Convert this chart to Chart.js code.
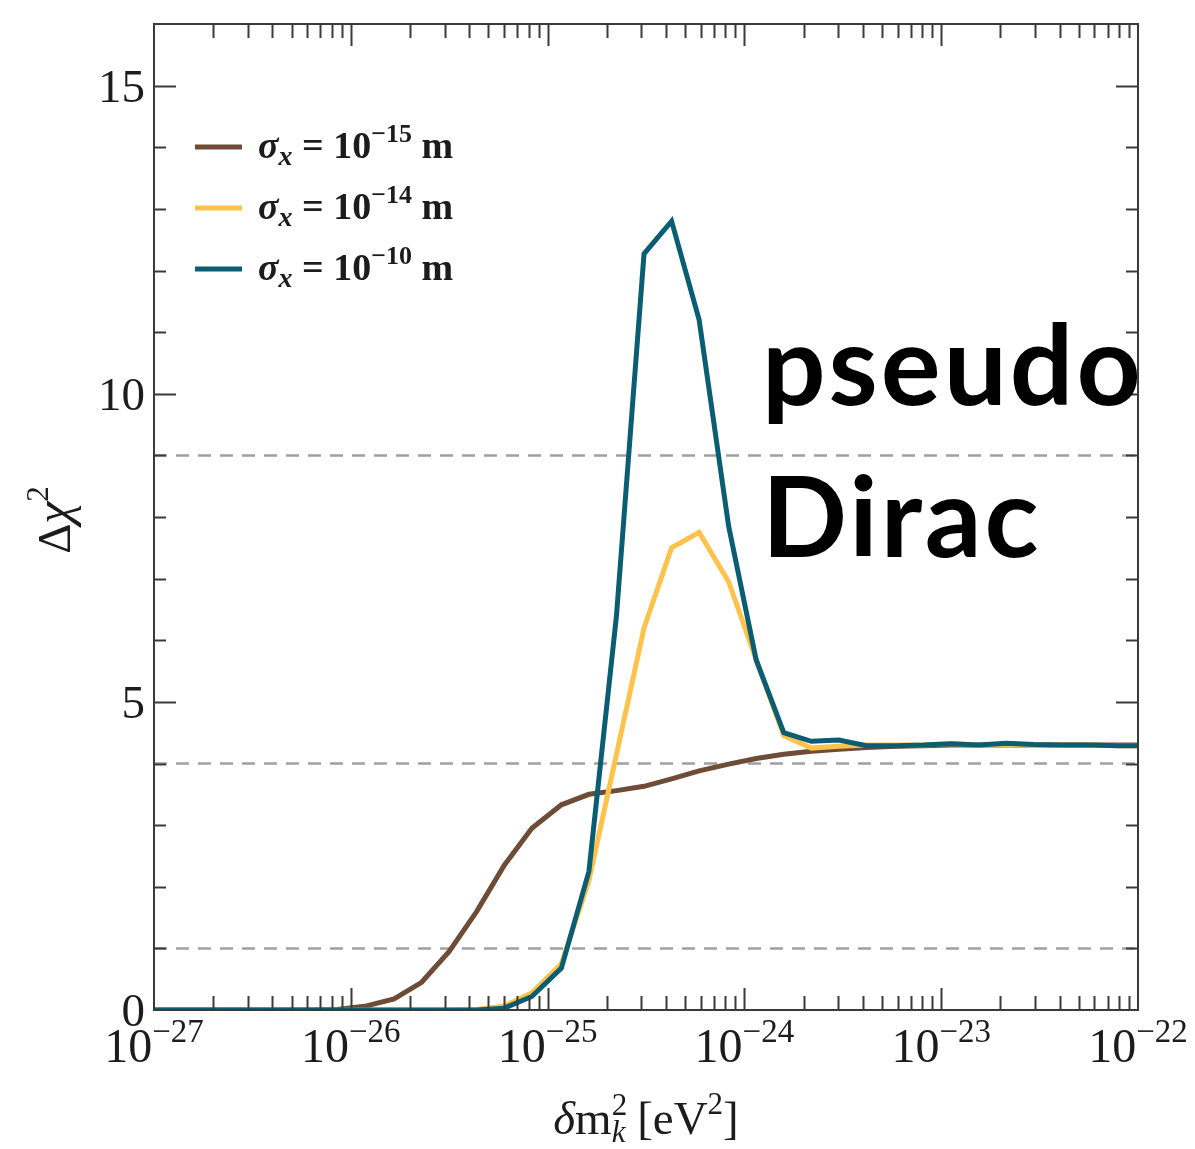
<!DOCTYPE html>
<html>
<head>
<meta charset="utf-8">
<script src="https://cdn.jsdelivr.net/npm/chart.js@4.4.1/dist/chart.umd.min.js"></script>
<style>
  html, body { margin: 0; padding: 0; background: #fff; }
  #wrap { width: 1195px; height: 1149px; }
</style>
</head>
<body>
<div id="wrap"><canvas id="chi2Chart" width="1195" height="1149"></canvas></div>
<script>
// log10 of δm² [eV²] for each sample
const logDm2 = [-27.0, -26.5, -26.21, -26.07, -25.93, -25.78, -25.64, -25.50, -25.36, -25.22,
  -25.08, -24.93, -24.79, -24.65, -24.51, -24.37, -24.23, -24.08, -23.94, -23.80,
  -23.66, -23.52, -23.38, -23.23, -23.09, -22.95, -22.81, -22.67, -22.53, -22.38,
  -22.24, -22.10, -22.0];

// Δχ² for the three wave-packet widths
const chi2Sigma15 = [0, 0, 0, 0.01, 0.06, 0.18, 0.45, 0.95, 1.6, 2.35,
  2.95, 3.33, 3.5, 3.56, 3.63, 3.75, 3.88, 3.99, 4.08, 4.15,
  4.2, 4.23, 4.26, 4.28, 4.29, 4.3, 4.3, 4.3, 4.3, 4.3,
  4.3, 4.3, 4.3];
const chi2Sigma14 = [0, 0, 0, 0, 0, 0, 0, 0, 0.01, 0.06,
  0.28, 0.75, 2.1, 4.15, 6.2, 7.5, 7.75, 6.95, 5.68, 4.45,
  4.25, 4.28, 4.3, 4.3, 4.3, 4.32, 4.3, 4.31, 4.3, 4.3,
  4.3, 4.29, 4.29];
const chi2Sigma10 = [0, 0, 0, 0, 0, 0, 0, 0, 0, 0.03,
  0.22, 0.68, 2.25, 6.4, 12.27, 12.8, 11.2, 7.85, 5.68, 4.5,
  4.36, 4.38, 4.29, 4.29, 4.3, 4.32, 4.3, 4.33, 4.31, 4.3,
  4.3, 4.29, 4.29];

// confidence levels drawn as dashed lines
const refLevels = [1, 4, 9];

const xTickExps = [-27, -26, -25, -24, -23, -22];
const yTickLabels = [0, 5, 10, 15];

const seriesNames = ['−15', '−14', '−10'];
const seriesColors = ['#6e4c36', '#ffc24a', '#0b5d74'];

const SERIF = '"Liberation Serif", "Times New Roman", serif';
const INK = '#1c1c1c';

function pts(ys) {
  return logDm2.map((l, i) => ({ x: Math.pow(10, l), y: ys[i] }));
}

// draw a run of text pieces with their own font and vertical offset
function richWidth(ctx, parts) {
  let w = 0;
  parts.forEach(p => {
    ctx.font = p.font;
    p.w = p.noAdvance ? 0 : ctx.measureText(p.t).width;
    w += p.w;
  });
  return w;
}
function drawRich(ctx, x, y, parts, align) {
  const w = richWidth(ctx, parts);
  let cx = align === 'center' ? x - w / 2 : align === 'right' ? x - w : x;
  ctx.textBaseline = 'alphabetic';
  ctx.textAlign = 'left';
  parts.forEach(p => {
    ctx.font = p.font;
    ctx.fillText(p.t, cx + (p.dx || 0), y + (p.dy || 0));
    cx += p.w;
  });
}

const framePlugin = {
  id: 'frame',
  afterDatasetsDraw(chart) {
    const { ctx, chartArea: a, scales } = chart;
    const xs = scales.x, ys = scales.y;
    ctx.save();
    ctx.strokeStyle = '#3a3a3a';
    ctx.lineWidth = 2;
    ctx.strokeRect(a.left, a.top, a.right - a.left, a.bottom - a.top);

    // inward tick marks on all four sides
    ctx.beginPath();
    for (let v = 1; v < 16; v++) {
      const py = Math.round(ys.getPixelForValue(v)) + 0.5;
      const len = v % 5 === 0 ? 22 : 12;
      ctx.moveTo(a.left, py); ctx.lineTo(a.left + len, py);
      ctx.moveTo(a.right, py); ctx.lineTo(a.right - len, py);
    }
    for (let d = -27; d < -22; d++) {
      for (let m = 1; m <= 9; m++) {
        const px = Math.round(xs.getPixelForValue(m * Math.pow(10, d))) + 0.5;
        const len = m === 1 ? 22 : 14;
        if (m === 1 && d === -27) continue;
        ctx.moveTo(px, a.bottom); ctx.lineTo(px, a.bottom - len);
        ctx.moveTo(px, a.top); ctx.lineTo(px, a.top + len);
      }
    }
    ctx.stroke();

    ctx.fillStyle = INK;
    // y tick labels
    yTickLabels.forEach(v => {
      const py = ys.getPixelForValue(v);
      drawRich(ctx, a.left - 9, py + 16, [{ t: String(v), font: `47px ${SERIF}` }], 'right');
    });
    // x tick labels 10^n
    xTickExps.forEach(e => {
      const px = xs.getPixelForValue(Math.pow(10, e));
      drawRich(ctx, px, 1062, [
        { t: '10', font: `48px ${SERIF}` },
        { t: '−' + Math.abs(e), font: `33px ${SERIF}`, dy: -20 }
      ], 'center');
    });

    // axis titles
    drawRich(ctx, (a.left + a.right) / 2, 1134, [
      { t: 'δ', font: `italic 47px ${SERIF}` },
      { t: 'm', font: `47px ${SERIF}` },
      { t: '2', font: `31px ${SERIF}`, dy: -19, noAdvance: true },
      { t: 'k', font: `italic 31px ${SERIF}`, dy: 8 },
      { t: ' [eV', font: `47px ${SERIF}` },
      { t: '2', font: `31px ${SERIF}`, dy: -20 },
      { t: ']', font: `47px ${SERIF}` }
    ], 'center');

    ctx.save();
    ctx.translate(70, 520);
    ctx.rotate(-Math.PI / 2);
    drawRich(ctx, 0, 0, [
      { t: 'Δ', font: `47px ${SERIF}` },
      { t: 'χ', font: `italic 50px ${SERIF}` },
      { t: '2', font: `31px ${SERIF}`, dy: -22 }
    ], 'center');
    ctx.restore();

    // legend
    const rows = [147, 208, 269];
    rows.forEach((ly, i) => {
      ctx.strokeStyle = seriesColors[i];
      ctx.lineWidth = 5;
      ctx.beginPath();
      ctx.moveTo(195, ly); ctx.lineTo(242, ly);
      ctx.stroke();
      ctx.fillStyle = INK;
      drawRich(ctx, 258, ly + 11, [
        { t: 'σ', font: `italic bold 38px ${SERIF}` },
        { t: 'x', font: `italic bold 28px ${SERIF}`, dy: 7 },
        { t: ' = 10', font: `bold 38px ${SERIF}` },
        { t: seriesNames[i], font: `bold 26px ${SERIF}`, dy: -16 },
        { t: ' m', font: `bold 38px ${SERIF}` }
      ], 'left');
    });

    // annotation
    ctx.fillStyle = '#000';
    ctx.font = 'bold 112px Lato, "Open Sans", sans-serif';
    ctx.textAlign = 'left';
    ctx.letterSpacing = '3px';
    ctx.fillText('pseudo', 762, 405);
    ctx.fillText('Dirac', 762, 557);
    ctx.restore();
  }
};

const lineStyle = { borderWidth: 5, pointRadius: 0, tension: 0, fill: false };

new Chart(document.getElementById('chi2Chart'), {
  type: 'line',
  data: {
    datasets: [
      { label: 'σx = 10−10 m', data: pts(chi2Sigma10), borderColor: seriesColors[2], order: 0, ...lineStyle },
      { label: 'σx = 10−14 m', data: pts(chi2Sigma14), borderColor: seriesColors[1], order: 1, ...lineStyle },
      { label: 'σx = 10−15 m', data: pts(chi2Sigma15), borderColor: seriesColors[0], order: 2, ...lineStyle },
      ...refLevels.map(lv => ({
        label: 'Δχ² = ' + lv,
        data: [{ x: 1e-27, y: lv }, { x: 1e-22, y: lv }],
        borderColor: '#a0a0a0', borderWidth: 2.5, borderDash: [13, 9],
        pointRadius: 0, order: 3
      }))
    ]
  },
  options: {
    responsive: false,
    animation: false,
    layout: { padding: { left: 154, right: 57, top: 24, bottom: 139 } },
    plugins: { legend: { display: false }, tooltip: { enabled: false } },
    scales: {
      x: {
        type: 'logarithmic', min: 1e-27, max: 1e-22,
        ticks: { display: false }, grid: { display: false, drawTicks: false }, border: { display: false }
      },
      y: {
        type: 'linear', min: 0, max: 16,
        ticks: { display: false }, grid: { display: false, drawTicks: false }, border: { display: false }
      }
    }
  },
  plugins: [framePlugin]
});
</script>
</body>
</html>
